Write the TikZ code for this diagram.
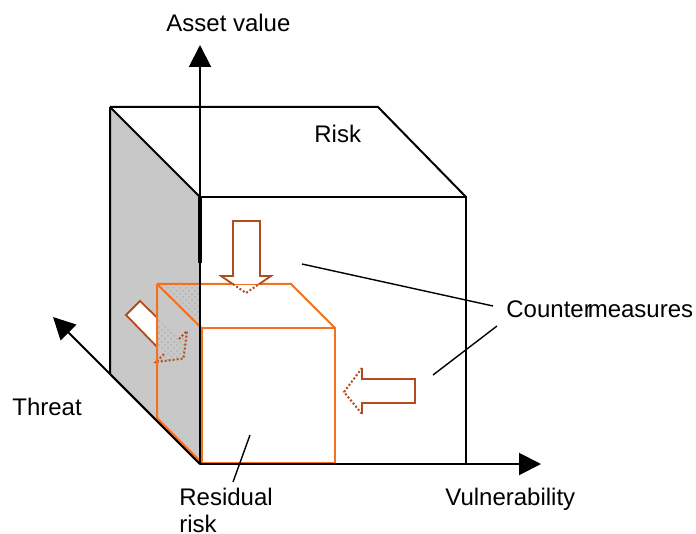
\documentclass[tikz,border=0pt]{standalone}
\usepackage{fontspec}
\setmainfont{Liberation Sans}
\usepackage{tikz}
\usetikzlibrary{arrows.meta,patterns}

\definecolor{resorange}{RGB}{242,112,32}
\definecolor{cmbrown}{RGB}{176,76,30}
\definecolor{sidegray}{RGB}{200,200,200}

\begin{document}
\begin{tikzpicture}[
  x=0.5pt, y=-0.5pt,
  font=\fontsize{12}{13.5}\selectfont,
  lbl/.style={inner sep=0pt, anchor=base west, align=left},
  edge/.style={line width=1pt, line join=miter},
  res/.style={draw=resorange, line width=1pt},
  cmline/.style={draw=cmbrown, line width=0.9pt},
  cmdot/.style={draw=cmbrown, line width=1pt, densely dotted},
  lead/.style={line width=0.7pt},
  ax/.style={line width=1pt, -{Triangle[length=11pt,width=11pt]}},
  hatch/.style={pattern=crosshatch dots, pattern color=gray!60}
]
\useasboundingbox (0,0) rectangle (696,534);

% corners
\coordinate (O) at (200,464);
\coordinate (ft) at (200,197);
\coordinate (ftr) at (466,197);
\coordinate (fbr) at (466,464);
\coordinate (bt) at (110,107);
\coordinate (btr) at (378,107);
\coordinate (bb) at (110,374);
\coordinate (rbt) at (157,284);
\coordinate (rbtr) at (291,284);
\coordinate (rbb) at (157,418);

% shaded side of the risk cube
\fill[sidegray] (bt) -- (ft) -- (O) -- (bb) -- cycle;
\fill[hatch] (rbt) -- (200,284) -- (200,328) -- cycle;

% countermeasure on threat
\begin{scope}
  \clip (100,250) rectangle (157,400);
  \filldraw[cmline, fill=white] (126,315) -- (140,301) -- (179,339) -- (187,331)
    -- (183.5,358.5) -- (156,362) -- (164,354) -- cycle;
\end{scope}
\begin{scope}
  \clip (157,250) rectangle (200,400);
  \fill[hatch] (126,315) -- (140,301) -- (179,339) -- (187,331)
    -- (183.5,358.5) -- (156,362) -- (164,354) -- cycle;
  \draw[cmdot] (179,339) -- (187,331) -- (183.5,358.5) -- (156,362) -- (164,354);
\end{scope}

% risk cube
\draw[edge] (ft) -- (ftr) -- (fbr);
\draw[edge] (bt) -- (btr) -- (ftr);
\draw[edge] (bt) -- (ft);
\draw[edge] (bt) -- (bb) -- (O);

% residual risk cube
\draw[res] (201.5,328) rectangle (335,462.5);
\draw[res] (rbt) -- (rbtr) -- (335,328);
\draw[res] (rbt) -- (201.5,328);
\draw[res] (rbt) -- (rbb) -- (201.5,462.5);

% axes
\draw[ax] (O) -- (200,45);
\draw[ax] (O) -- (541,464);
\draw[ax] (O) -- (53,317);
\draw[line width=1.8pt] (ft) -- (200,263);

% countermeasure on asset value
\begin{scope}
  \clip (210,200) rectangle (290,284);
  \filldraw[cmline, fill=white] (233,221) -- (260,221) -- (260,276) -- (271,276)
    -- (246,293) -- (221,276) -- (233,276) -- cycle;
\end{scope}
\begin{scope}
  \clip (210,284) rectangle (290,300);
  \draw[cmdot] (271,276) -- (246,293) -- (221,276);
\end{scope}

% countermeasure on vulnerability
\filldraw[cmline, fill=white] (362,368) -- (362,379) -- (415,379) -- (415,403)
  -- (362,403) -- (362,414);
\draw[cmdot] (362,368) -- (344,392) -- (362,414);

% labels
\node[lbl] (asset) at (166,32) {Asset value};
\node[lbl] (risk) at (314,143) {Risk};
\node[lbl] (cmeas) at (506,317) {Counter\kern-2pt measures};
\node[lbl] (threat) at (12,415) {Threat};
\node[lbl] (resid) at (179,532) {Residual\\risk};
\node[lbl] (vuln) at (445,505) {Vulnerability};

% leaders
\coordinate (cmA) at (302,264);
\coordinate (cmB) at (433,375);
\coordinate (rrA) at (250,435);
\draw[lead] (493,306) -- (cmA);
\draw[lead] (497,326) -- (cmB);
\draw[lead] (233,482) -- (rrA);
\end{tikzpicture}
\end{document}
